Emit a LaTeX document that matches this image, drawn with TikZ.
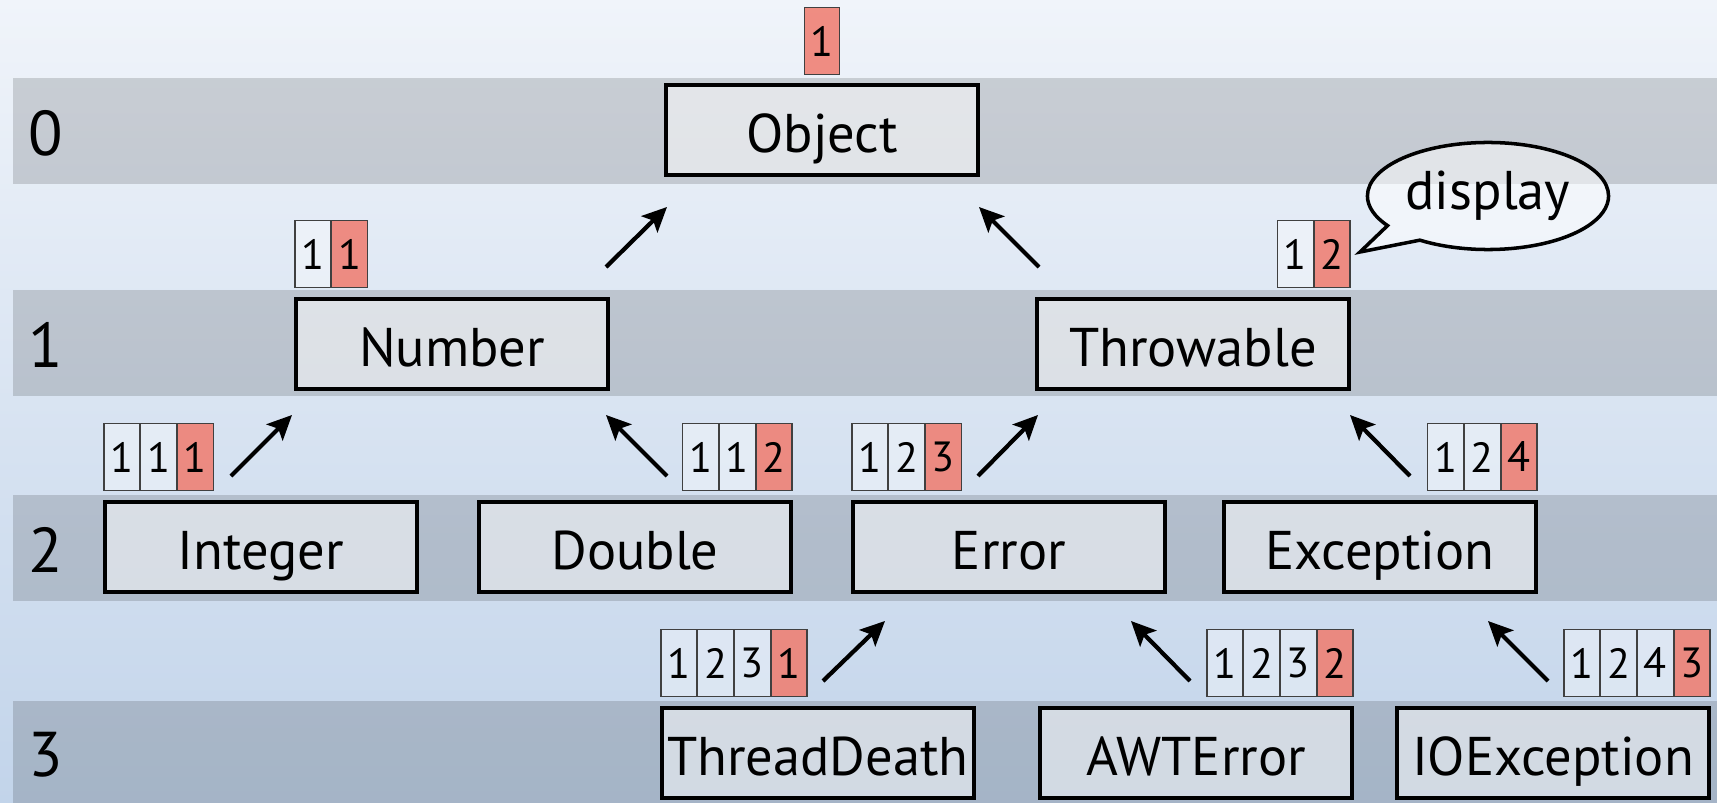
\documentclass[tikz,border=0pt]{standalone}
\usepackage{fontspec}
\setmainfont{PT Sans}
\usetikzlibrary{arrows.meta,shapes.geometric,shapes.callouts}
\definecolor{bgtop}{HTML}{F0F4FA}
\definecolor{bgbot}{HTML}{C2D4EA}
\definecolor{hotred}{HTML}{F07B6E}
\begin{document}
\begin{tikzpicture}[x=0.01cm,y=-0.01cm,
  klass/.style={draw=black, line width=1pt, fill=white, fill opacity=0.5, text opacity=1,
    minimum width=3.12cm, minimum height=0.90cm, inner sep=0pt,
    text height=15pt, text depth=2pt,
    font=\fontsize{15.5}{18}\selectfont},
  cell/.style={draw=black!75, line width=0.4pt, fill=white, fill opacity=0.35, text opacity=1,
    minimum width=0.355cm, minimum height=0.67cm, inner sep=0pt,
    font=\fontsize{12}{14}\selectfont},
  hot/.style={fill=hotred, fill opacity=0.85},
  lvl/.style={font=\fontsize{18}{21}\selectfont, inner sep=0pt},
  band/.style={fill=black, opacity=0.15},
  arr/.style={line width=1.2pt, -{Stealth[length=7pt,width=6.5pt,inset=1.5pt]}}
]
\useasboundingbox (0,0) rectangle (1717,803);
\shade[top color=bgtop, bottom color=bgbot] (0,0) rectangle (1717,803);
% bands
\fill[band] (13,78) rectangle (1717,184);
\fill[band] (13,290) rectangle (1717,396);
\fill[band] (13,495) rectangle (1717,601);
\fill[band] (13,701) rectangle (1717,803);
% level labels
\node[lvl] (lv0) at (46,133) {0};
\node[lvl] (lv1) at (46,345) {1};
\node[lvl] (lv2) at (46,550) {2};
\node[lvl] (lv3) at (46,755) {3};
% classes
\node[klass] (obj) at (822,130) {Object};
\node[klass] (num) at (452,344) {Number};
\node[klass] (thr) at (1193,344) {Throwable};
\node[klass] (int) at (261,547) {Integer};
\node[klass] (dbl) at (635,547) {Double};
\node[klass] (err) at (1009,547) {Error};
\node[klass] (exc) at (1380,547) {Exception};
\node[klass] (td) at (818,753) {ThreadDeath};
\node[klass] (awt) at (1196,753) {AWTError};
\node[klass] (ioe) at (1553,753) {IOException};
% labels
\node[cell,hot,anchor=south] (lo1) at ([yshift=0.08cm]obj.north) {1};
% Number: 1 1
\node[cell,anchor=south west] (ln1) at ([yshift=0.09cm]num.north west) {1};
\node[cell,hot,anchor=west] (ln2) at (ln1.east) {1};
% Throwable: 1 2
\node[cell,hot,anchor=south east] (lt2) at ([yshift=0.09cm]thr.north east) {2};
\node[cell,anchor=east] (lt1) at (lt2.west) {1};
% Integer: 1 1 1
\node[cell,anchor=south west] (li1) at ([yshift=0.09cm]int.north west) {1};
\node[cell,anchor=west] (li2) at (li1.east) {1};
\node[cell,hot,anchor=west] (li3) at (li2.east) {1};
% Double: 1 1 2
\node[cell,hot,anchor=south east] (ld3) at ([yshift=0.09cm]dbl.north east) {2};
\node[cell,anchor=east] (ld2) at (ld3.west) {1};
\node[cell,anchor=east] (ld1) at (ld2.west) {1};
% Error: 1 2 3
\node[cell,anchor=south west] (le1) at ([yshift=0.09cm]err.north west) {1};
\node[cell,anchor=west] (le2) at (le1.east) {2};
\node[cell,hot,anchor=west] (le3) at (le2.east) {3};
% Exception: 1 2 4
\node[cell,hot,anchor=south east] (lx3) at ([yshift=0.09cm]exc.north east) {4};
\node[cell,anchor=east] (lx2) at (lx3.west) {2};
\node[cell,anchor=east] (lx1) at (lx2.west) {1};
% ThreadDeath: 1 2 3 1
\node[cell,anchor=south west] (ltd1) at ([yshift=0.09cm]td.north west) {1};
\node[cell,anchor=west] (ltd2) at (ltd1.east) {2};
\node[cell,anchor=west] (ltd3) at (ltd2.east) {3};
\node[cell,hot,anchor=west] (ltd4) at (ltd3.east) {1};
% AWTError: 1 2 3 2
\node[cell,hot,anchor=south east] (la4) at ([yshift=0.09cm]awt.north east) {2};
\node[cell,anchor=east] (la3) at (la4.west) {3};
\node[cell,anchor=east] (la2) at (la3.west) {2};
\node[cell,anchor=east] (la1) at (la2.west) {1};
% IOException: 1 2 4 3
\node[cell,hot,anchor=south east] (lio4) at ([yshift=0.09cm]ioe.north east) {3};
\node[cell,anchor=east] (lio3) at (lio4.west) {4};
\node[cell,anchor=east] (lio2) at (lio3.west) {2};
\node[cell,anchor=east] (lio1) at (lio2.west) {1};
% callout
\coordinate (tip) at (1360,252);
\node[ellipse callout, draw=black, line width=1pt, fill=white, fill opacity=0.5, text opacity=1,
  minimum width=2.41cm, minimum height=1.07cm, inner sep=0pt, callout pointer arc=22,
  callout absolute pointer={(tip)}, font=\fontsize{15.5}{18}\selectfont] (disp) at (1488,196) {display};
% arrows
\coordinate (a1s) at (231,476); \coordinate (a1e) at (292,415);
\coordinate (a2s) at (667,476); \coordinate (a2e) at (606,415);
\coordinate (a3s) at (606,267); \coordinate (a3e) at (667,207);
\coordinate (a4s) at (1039,267); \coordinate (a4e) at (979,207);
\coordinate (a5s) at (978,476); \coordinate (a5e) at (1038,415);
\coordinate (a6s) at (1410,476); \coordinate (a6e) at (1350,415);
\coordinate (a7s) at (823,681); \coordinate (a7e) at (885,621);
\coordinate (a8s) at (1190,681); \coordinate (a8e) at (1131,621);
\coordinate (a9s) at (1548,681); \coordinate (a9e) at (1488,621);
\foreach \i in {1,...,9} { \draw[arr] (a\i s) -- (a\i e); }
\end{tikzpicture}
\end{document}
